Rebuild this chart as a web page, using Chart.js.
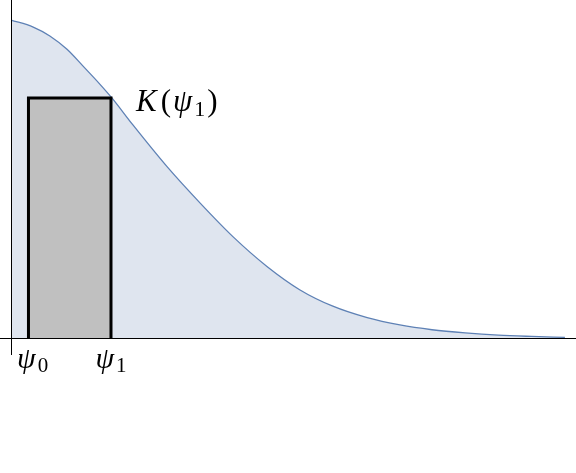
<!DOCTYPE html>
<html>
<head>
<meta charset="utf-8">
<script src="https://cdn.jsdelivr.net/npm/chart.js@4.4.1/dist/chart.umd.min.js"></script>
<style>
html,body{margin:0;padding:0;background:#fff;}
#wrap{width:576px;height:473px;}
</style>
</head>
<body>
<div id="wrap"><canvas id="c" width="576" height="473"></canvas></div>
<script>
// Kernel curve K(psi)
const curveX = [0, 0.40, 0.70, 1.01, 1.30, 1.61, 1.82, 2.20, 2.82, 3.41, 4.01, 4.62, 5.21, 5.81, 6.43, 7.02, 7.60, 8.20, 8.80, 9.40, 10.0];
const curveY = [1.0, 0.978, 0.950, 0.908, 0.855, 0.797, 0.755, 0.670, 0.538, 0.425, 0.318, 0.225, 0.152, 0.100, 0.064, 0.041, 0.026, 0.016, 0.009, 0.005, 0.002];

// Rectangle from psi0 to psi1 with height K(psi1)
const rectX = [0.314, 0.314, 1.804, 1.804];
const rectY = [0, 0.755, 0.755, 0];

// Tick labels: [symbol, subscript]
const tickValues = [0.314, 1.804];
const tickLabels = [['ψ', '0'], ['ψ', '1']];

// Annotation label
const annotLabel = ['K', '(', 'ψ', '1', ')'];

const curveData = curveX.map((x, i) => ({x: x, y: curveY[i]}));
const rectData = rectX.map((x, i) => ({x: x, y: rectY[i]}));

const serif = '"Liberation Serif", "DejaVu Serif", serif';

const axesPlugin = {
  id: 'axesPlugin',
  afterDatasetsDraw(chart) {
    const ctx = chart.ctx;
    const xs = chart.scales.x, ys = chart.scales.y;
    const x0 = xs.getPixelForValue(0);
    const y0 = ys.getPixelForValue(0);
    ctx.save();
    ctx.strokeStyle = '#000';
    ctx.lineWidth = 1;
    ctx.beginPath();
    ctx.moveTo(0, Math.round(y0) + 0.5);
    ctx.lineTo(chart.width, Math.round(y0) + 0.5);
    ctx.moveTo(Math.round(x0) + 0.5, 0);
    ctx.lineTo(Math.round(x0) + 0.5, y0 + 17);
    ctx.stroke();

    // tick labels
    ctx.fillStyle = '#000';
    ctx.textBaseline = 'alphabetic';
    tickValues.forEach((v, i) => {
      const px = xs.getPixelForValue(v);
      const [sym, sub] = tickLabels[i];
      ctx.font = 'italic 30px ' + serif;
      const w1 = ctx.measureText(sym).width + 2;
      ctx.font = '21px ' + serif;
      const w2 = ctx.measureText(sub).width;
      let left = px - (w1 + w2) / 2;
      left = Math.max(left, x0 + 6);
      ctx.font = 'italic 30px ' + serif;
      ctx.fillText(sym, left, y0 + 30);
      ctx.font = '21px ' + serif;
      ctx.fillText(sub, left + w1, y0 + 34);
    });

    // annotation K(psi1)
    const ax = xs.getPixelForValue(rectX[2]) + 25;
    const ay = ys.getPixelForValue(rectY[2]) + 13;
    let cx = ax;
    const parts = [
      {t: annotLabel[0], f: 'italic 31px ' + serif, dy: 0, gap: 4},
      {t: annotLabel[1], f: '31px ' + serif, dy: 0, gap: 2},
      {t: annotLabel[2], f: 'italic 31px ' + serif, dy: 0, gap: 2},
      {t: annotLabel[3], f: '22px ' + serif, dy: 5, gap: 2},
      {t: annotLabel[4], f: '31px ' + serif, dy: 0, gap: 0}
    ];
    parts.forEach(p => {
      ctx.font = p.f;
      ctx.fillText(p.t, cx, ay + p.dy);
      cx += ctx.measureText(p.t).width + p.gap;
    });
    ctx.restore();
  }
};

new Chart(document.getElementById('c'), {
  type: 'line',
  data: {
    datasets: [
      {
        data: rectData,
        borderColor: '#000',
        borderWidth: 3,
        backgroundColor: '#c0c0c0',
        fill: 'origin',
        tension: 0,
        pointRadius: 0,
        order: 0,
        borderJoinStyle: 'miter'
      },
      {
        data: curveData,
        borderColor: '#5e81b5',
        borderWidth: 1.3,
        backgroundColor: '#dfe5ef',
        fill: 'origin',
        cubicInterpolationMode: 'monotone',
        pointRadius: 0,
        order: 1
      }
    ]
  },
  options: {
    responsive: false,
    animation: false,
    layout: {padding: 0},
    plugins: {legend: {display: false}, tooltip: {enabled: false}},
    scales: {
      x: {type: 'linear', min: -0.2, max: 10.2, display: false},
      y: {type: 'linear', min: -0.4245, max: 1.063, display: false}
    }
  },
  plugins: [axesPlugin]
});
</script>
</body>
</html>
